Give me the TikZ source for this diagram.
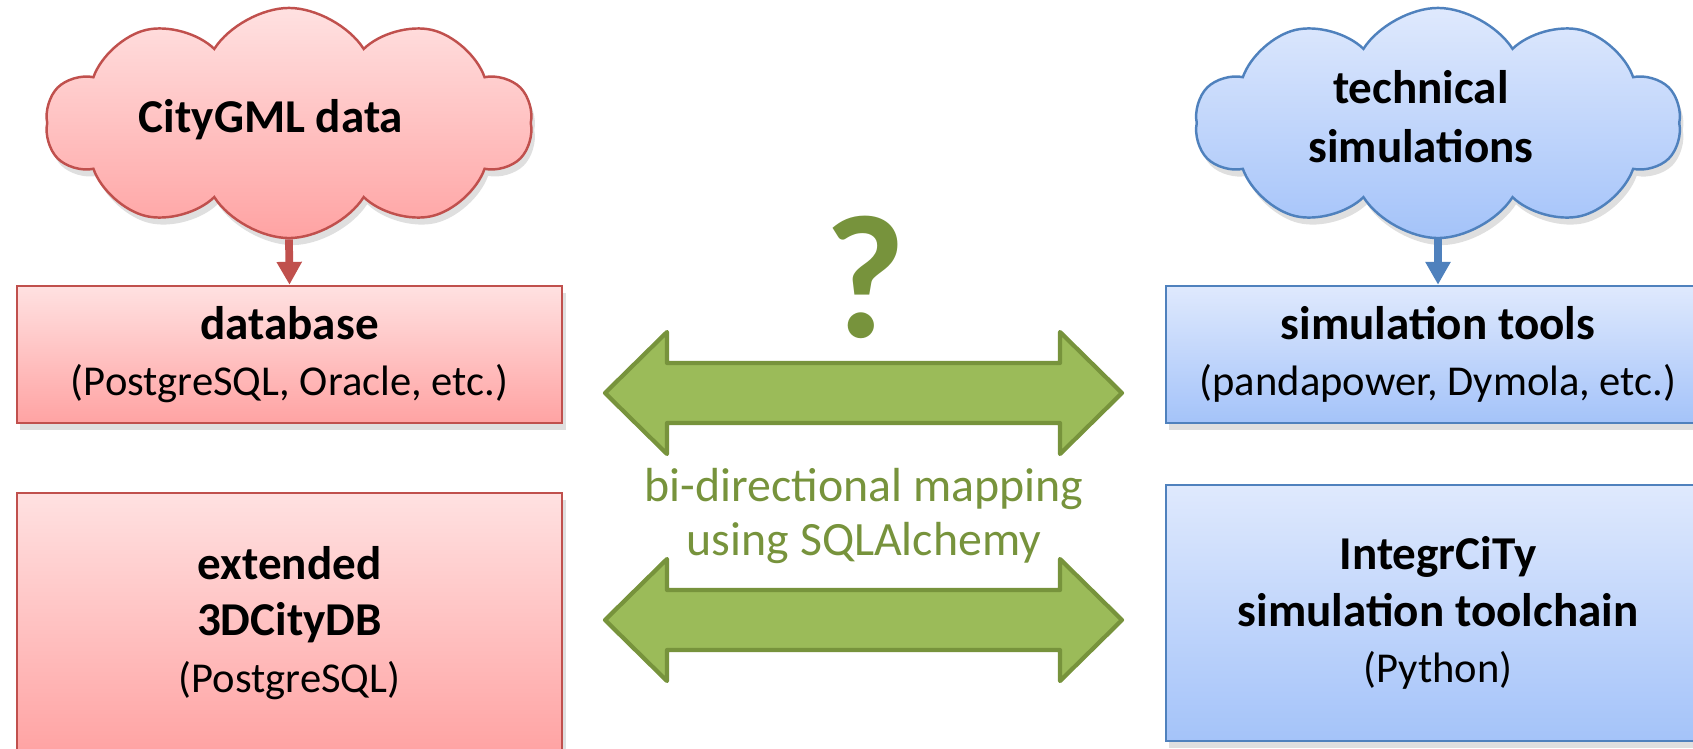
\documentclass[tikz,border=0pt]{standalone}
\usepackage{fontspec}
\setmainfont{Carlito}
\usetikzlibrary{shapes.symbols,shadows,arrows.meta}

\definecolor{redline}{HTML}{C0504D}
\definecolor{redtop}{HTML}{FFE1E1}
\definecolor{redbot}{HTML}{FFA3A3}
\definecolor{blueline}{HTML}{4F81BD}
\definecolor{bluetop}{HTML}{DFE9FD}
\definecolor{bluebot}{HTML}{A4C3F9}
\definecolor{greenfill}{HTML}{9BBB59}
\definecolor{greenline}{HTML}{77933C}

\newcommand{\hd}[1]{{\fontsize{13.4}{16}\selectfont\bfseries #1}}

\begin{document}
\begin{tikzpicture}[x=0.01cm,y=-0.01cm,
  box/.style={line width=0.7pt,align=center,inner sep=0pt,
    font=\fontsize{12.1}{16}\selectfont,
    drop shadow={shadow xshift=1pt,shadow yshift=-2pt,opacity=0.25}},
  redbox/.style={box,draw=redline,top color=redtop,bottom color=redbot},
  bluebox/.style={box,draw=blueline,top color=bluetop,bottom color=bluebot},
  cloudy/.style={box,cloud,cloud puffs=10,cloud puff arc=115,cloud ignores aspect},
  cloudtext/.style={align=center,inner sep=0pt,font=\fontsize{13.4}{16.8}\selectfont\bfseries},
  downarrow/.style={line width=2.2pt,-{Triangle[width=6.8pt,length=6.5pt]}},
  maparrow/.style={fill=greenfill,draw=greenline,line width=1.2pt,line join=round}]
  \useasboundingbox (0,0) rectangle (1693,748);

  % data side
  \node[cloudy,draw=redline,top color=redtop,bottom color=redbot,
    minimum width=4.86cm,minimum height=2.3cm] (cgml) at (289,123) {};
  \node[cloudtext,anchor=base] (cgmltxt) at (271,132) {CityGML data};
  \node[redbox,minimum width=5.45cm,minimum height=1.37cm] (db) at (289.5,354.5)
    {\hd{database}\\(PostgreSQL, Oracle, etc.)};
  \node[redbox,minimum width=5.45cm,minimum height=2.6cm] (cdb) at (289.5,623)
    {\hd{extended}\\\hd{3DCityDB}\\(PostgreSQL)};

  % simulation side
  \node[cloudy,draw=blueline,top color=bluetop,bottom color=bluebot,
    minimum width=4.85cm,minimum height=2.3cm] (techsim) at (1438,123) {};
  \node[cloudtext] (techsimtxt) at (1421,117) {technical\\simulations};
  \node[bluebox,minimum width=5.44cm,minimum height=1.37cm] (tools) at (1438,354.5)
    {\hd{simulation tools}\\(pandapower, Dymola, etc.)};
  \node[bluebox,minimum width=5.44cm,minimum height=2.56cm] (icity) at (1438,613)
    {\hd{IntegrCiTy}\\\hd{simulation toolchain}\\(Python)};

  \draw[downarrow,redline] (cgml.south) -- (db.north);
  \draw[downarrow,blueline] (techsim.south) -- (tools.north);

  % mapping in the middle
  \node[text=greenline,font=\bfseries\fontsize{50}{50}\selectfont] (q) at (865,277) {?};
  \filldraw[maparrow] (605,393) -- (667,332) -- (667,363) -- (1060,363) -- (1060,332)
    -- (1122,393) -- (1060,454) -- (1060,423) -- (667,423) -- (667,454) -- cycle;
  \node[text=greenline,align=center,font=\fontsize{13.6}{15.6}\selectfont] (map) at (864,516)
    {bi-directional mapping\\using SQLAlchemy};
  \filldraw[maparrow] (605,620) -- (667,559) -- (667,590) -- (1060,590) -- (1060,559)
    -- (1122,620) -- (1060,681) -- (1060,650) -- (667,650) -- (667,681) -- cycle;
\end{tikzpicture}
\end{document}
